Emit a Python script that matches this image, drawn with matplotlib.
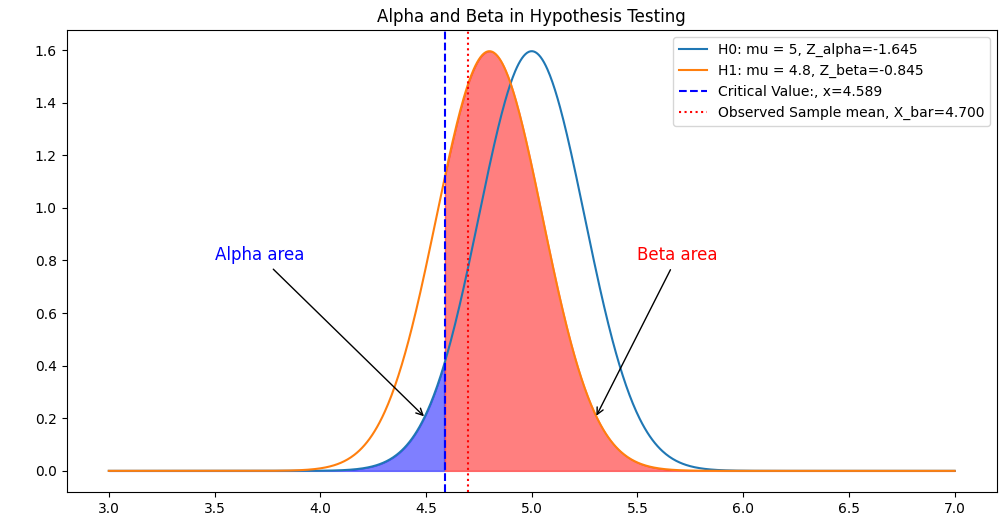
import numpy as np
import matplotlib
matplotlib.use("Agg")
import matplotlib.pyplot as plt

# distribution parameters
mu0 = 5.0
mu1 = 4.8
sigma = 0.25
z_alpha = -1.645
x_bar = 4.7
x_range = [3.0, 7.0]

critical = mu0 + z_alpha * sigma
z_beta = (critical - mu1) / sigma


def normal_pdf(x, mu, s):
    return np.exp(-0.5 * ((x - mu) / s) ** 2) / (s * np.sqrt(2 * np.pi))


x = np.linspace(x_range[0], x_range[1], 1000)
y0 = normal_pdf(x, mu0, sigma)
y1 = normal_pdf(x, mu1, sigma)

fig = plt.figure(figsize=(10.08, 5.3), dpi=100)
ax = fig.add_axes([0.066, 0.072, 0.923, 0.871])

ax.plot(x, y0, label=f"H0: mu = {mu0:g}, Z_alpha={z_alpha:.3f}")
ax.plot(x, y1, label=f"H1: mu = {mu1:g}, Z_beta={z_beta:.3f}")
ax.axvline(critical, color="b", linestyle="--", label=f"Critical Value:, x={critical:.3f}")
ax.axvline(x_bar, color="r", linestyle=":", label=f"Observed Sample mean, X_bar={x_bar:.3f}")

ax.fill_between(x, y0, where=x <= critical, color="blue", alpha=0.5)
ax.fill_between(x, y1, where=x >= critical, color="red", alpha=0.5)

ax.annotate("Alpha area", xy=(4.5, 0.2), xytext=(3.5, 0.8), fontsize=12,
            color="blue", arrowprops=dict(arrowstyle="->", color="black"))
ax.annotate("Beta area", xy=(5.3, 0.2), xytext=(5.5, 0.8), fontsize=12,
            color="red", arrowprops=dict(arrowstyle="->", color="black"))

ax.set_title("Alpha and Beta in Hypothesis Testing")
ax.legend(loc="upper right")

fig.savefig("out.png")
